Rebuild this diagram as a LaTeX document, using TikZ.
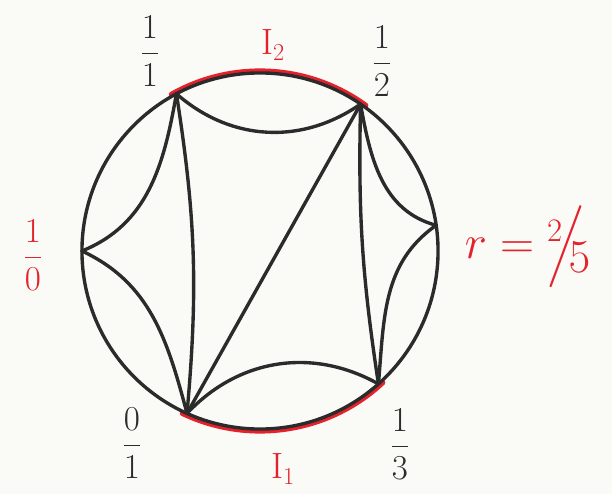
\documentclass[tikz,border=0pt]{standalone}
\usepackage{amsmath}
\usepackage{amssymb}
\usepackage{tikz}
\usepackage{xcolor}
\usetikzlibrary{calc}
\definecolor{fareyRed}{HTML}{E3222B}
\definecolor{fareyInk}{HTML}{2B2B2B}
\definecolor{fareyPaper}{HTML}{FAFAF7}

\begin{document}
\begin{tikzpicture}[
    x=0.025cm, y=0.025cm,
    edge/.style={draw=fareyInk, line width=2.4pt, line cap=round, line join=round},
    interval/.style={draw=fareyRed, line width=3.6pt, line cap=round},
    inkfrac/.style={font=\fontsize{23}{27}\selectfont, text=fareyInk, inner sep=0pt},
    redfrac/.style={font=\fontsize{23}{27}\selectfont, text=fareyRed, inner sep=0pt},
    intlabel/.style={font=\fontsize{26}{30}\selectfont, text=fareyRed, inner sep=0pt}
]
\fill[fareyPaper] (0,0) rectangle (612,494);
\useasboundingbox (0,0) rectangle (612,494);

% ===== DISK AND VERTICES =====
\coordinate (ctr) at (260,243);
\coordinate (v11) at ($(ctr)+(118:4.45cm)$);
\coordinate (v12) at ($(ctr)+(55.6:4.45cm)$);
\coordinate (vr)  at ($(ctr)+(8.3:4.45cm)$);
\coordinate (v13) at ($(ctr)+(-48.3:4.45cm)$);
\coordinate (v01) at ($(ctr)+(-114.2:4.45cm)$);
\coordinate (v10) at ($(ctr)+(180:4.45cm)$);

% intervals I_1 and I_2 on the boundary
\draw[interval] ($(ctr)+(119.5:4.5cm)$) arc[start angle=119.5, end angle=54, radius=4.5cm];
\draw[interval] ($(ctr)+(-115.6:4.5cm)$) arc[start angle=-115.6, end angle=-47, radius=4.5cm];

\draw[edge] (ctr) circle[radius=4.45cm];

% ===== GEODESICS =====
\draw[edge] (v11) to[bend right=38] (v12);
\draw[edge] (v12) to[out=-80, in=165] (vr);
\draw[edge] (vr)  to[out=215, in=85] (v13);
\draw[edge] (v13) to[bend right=38] (v01);
\draw[edge] (v01) to[out=105, in=-25] (v10);
\draw[edge] (v10) to[out=22, in=-100] (v11);

\draw[edge] (v11) to[bend left=7] (v01);
\draw[edge] (v12) -- (v01);
\draw[edge] (v12) to[bend right=5] (v13);

% ===== LABELS =====
\node[inkfrac] (lab11) at (150,443) {$\dfrac{1}{1}$};
\node[inkfrac] (lab12) at (382,433) {$\dfrac{1}{2}$};
\node[redfrac] (lab10) at (33,239) {$\dfrac{1}{0}$};
\node[inkfrac] (lab01) at (132,51) {$\dfrac{0}{1}$};
\node[inkfrac] (lab13) at (400,50) {$\dfrac{1}{3}$};

\node[intlabel] (labI2) at (273,449) {I$_2$};
\node[intlabel] (labI1) at (283,25) {I$_1$};

\node[font=\fontsize{24}{28}\selectfont, text=fareyRed, inner sep=0pt, scale=1.35] (labr) at (528,247)
    {$r = {}^{2}\!\!\Big/\!\!{}_{\textstyle 5}$};

\end{tikzpicture}
\end{document}
